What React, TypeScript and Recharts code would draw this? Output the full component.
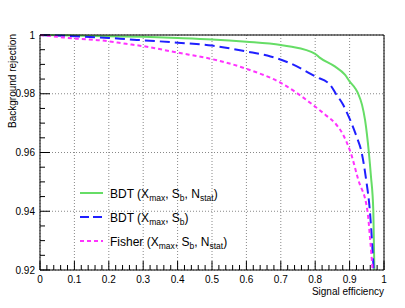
import { LineChart, Line, XAxis, YAxis, CartesianGrid } from 'recharts';

// signal efficiency (x) vs background rejection (y)
const bdtFullEff = [0, 0.1, 0.2, 0.3, 0.4, 0.5, 0.6, 0.7, 0.727, 0.8, 0.813, 0.857, 0.887, 0.9, 0.916, 0.925, 0.936, 0.945, 0.956, 0.962, 0.969, 0.972];
const bdtFullRej = [1, 0.9998, 0.9996, 0.9994, 0.999, 0.9985, 0.9977, 0.9966, 0.9961, 0.9936, 0.9923, 0.9893, 0.9864, 0.9842, 0.9819, 0.98, 0.9763, 0.971, 0.96, 0.952, 0.94, 0.92];

const bdtEff = [0, 0.1, 0.2, 0.26, 0.3, 0.4, 0.5, 0.6, 0.67, 0.727, 0.8, 0.843, 0.86, 0.88, 0.9, 0.92, 0.935, 0.948, 0.959, 0.97];
const bdtRej = [1, 0.9996, 0.999, 0.9985, 0.9982, 0.9974, 0.9964, 0.9944, 0.9927, 0.9904, 0.9859, 0.9831, 0.98, 0.9765, 0.9715, 0.9655, 0.96, 0.9508, 0.94, 0.92];

const fisherEff = [0, 0.05, 0.1, 0.175, 0.25, 0.3, 0.4, 0.5, 0.6, 0.7, 0.8, 0.83, 0.86, 0.88, 0.903, 0.925, 0.952, 0.96, 0.967];
const fisherRej = [1, 0.9994, 0.9988, 0.9982, 0.997, 0.9962, 0.994, 0.9918, 0.9885, 0.9837, 0.9756, 0.9728, 0.9697, 0.9663, 0.96, 0.9508, 0.94, 0.93, 0.92];

const xMajor = [0, 0.1, 0.2, 0.3, 0.4, 0.5, 0.6, 0.7, 0.8, 0.9, 1];
const yMajor = [0.92, 0.94, 0.96, 0.98, 1];
const xMinorStep = 0.02;
const yMinorStep = 0.005;

const seriesNames = ['BDT (X_max, S_b, N_stat)', 'BDT (X_max, S_b)', 'Fisher (X_max, S_b, N_stat)'];

const toPoints = (xs: number[], ys: number[]) => xs.map((x, i) => ({ x, y: ys[i] }));

const minorTicks = (lo: number, hi: number, step: number) => {
  const out: number[] = [];
  const n = Math.round((hi - lo) / step);
  for (let i = 0; i <= n; i++) out.push(+(lo + i * step).toFixed(4));
  return out;
};

const xTicks = minorTicks(0, 1, xMinorStep);
const yTicks = minorTicks(0.92, 1, yMinorStep);

const isMajor = (v: number, majors: number[]) => majors.some((m) => Math.abs(m - v) < 1e-6);

const FONT = '"Liberation Sans", Arial, sans-serif';

const series = [
  { data: toPoints(bdtFullEff, bdtFullRej), color: '#66dd66', dash: undefined, legendDash: undefined },
  { data: toPoints(bdtEff, bdtRej), color: '#1f1fff', dash: '10 5', legendDash: '9 4' },
  { data: toPoints(fisherEff, fisherRej), color: '#ff33ff', dash: '4 3', legendDash: '4 3' },
];

const BottomTick = (props: any) => {
  const { x, y, payload } = props;
  const major = isMajor(payload.value, xMajor);
  return (
    <g>
      <line x1={x} x2={x} y1={y} y2={y - (major ? 9 : 5)} stroke="#000" />
      {major && (
        <text x={x} y={y + 13} textAnchor="middle" fontSize={10} fontFamily={FONT} fill="#000">
          {payload.value}
        </text>
      )}
    </g>
  );
};

const TopTick = (props: any) => {
  const { x, y, payload } = props;
  const major = isMajor(payload.value, xMajor);
  return <line x1={x} x2={x} y1={y} y2={y + (major ? 9 : 5)} stroke="#000" />;
};

const LeftTick = (props: any) => {
  const { x, y, payload } = props;
  const major = isMajor(payload.value, yMajor);
  return (
    <g>
      <line x1={x} x2={x + (major ? 10 : 5)} y1={y} y2={y} stroke="#000" />
      {major && (
        <text x={x - 5} y={y + 3.5} textAnchor="end" fontSize={10} fontFamily={FONT} fill="#000">
          {payload.value}
        </text>
      )}
    </g>
  );
};

const RightTick = (props: any) => {
  const { x, y, payload } = props;
  const major = isMajor(payload.value, yMajor);
  return <line x1={x} x2={x - (major ? 10 : 5)} y1={y} y2={y} stroke="#000" />;
};

const LegendLabel = ({ name, x, y }: { name: string; x: number; y: number }) => {
  const parts = name.split(/_(\w+)/);
  return (
    <text x={x} y={y} fontSize={12} fontFamily={FONT} fill="#000">
      {parts.map((p, i) =>
        i % 2 === 1 ? (
          <tspan key={i} dy={3} fontSize={8.5}>
            {p}
          </tspan>
        ) : (
          <tspan key={i} dy={i === 0 ? 0 : -3}>
            {p}
          </tspan>
        )
      )}
    </text>
  );
};

export default function App() {
  return (
    <div style={{ position: 'absolute', left: 0, top: 0, background: '#fff' }}>
      <LineChart width={405} height={308} margin={{ top: 34, right: 20, bottom: 0, left: 0 }}>
        <CartesianGrid
          stroke="#888"
          strokeDasharray="1 2"
          verticalValues={xMajor}
          horizontalValues={yMajor}
        />
        <XAxis
          dataKey="x"
          type="number"
          domain={[0, 1]}
          ticks={xTicks}
          interval={0}
          height={38}
          tickSize={0}
          tickMargin={0}
          tickLine={false}
          axisLine={{ stroke: '#000' }}
          tick={<BottomTick />}
        />
        <XAxis
          xAxisId="top"
          orientation="top"
          type="number"
          domain={[0, 1]}
          ticks={xTicks}
          interval={0}
          height={1}
          tickSize={0}
          tickMargin={0}
          tickLine={false}
          axisLine={{ stroke: '#000' }}
          tick={<TopTick />}
        />
        <YAxis
          type="number"
          domain={[0.92, 1]}
          ticks={yTicks}
          interval={0}
          width={40}
          tickSize={0}
          tickMargin={0}
          tickLine={false}
          axisLine={{ stroke: '#000' }}
          tick={<LeftTick />}
        />
        <YAxis
          yAxisId="right"
          orientation="right"
          type="number"
          domain={[0.92, 1]}
          ticks={yTicks}
          interval={0}
          width={1}
          tickSize={0}
          tickMargin={0}
          tickLine={false}
          axisLine={{ stroke: '#000' }}
          tick={<RightTick />}
        />
        {series.map((s, i) => (
          <Line
            key={i}
            data={s.data}
            dataKey="y"
            type="monotone"
            stroke={s.color}
            strokeWidth={2}
            strokeDasharray={s.dash}
            dot={false}
            isAnimationActive={false}
          />
        ))}
        <g>
          {series.map((s, i) => (
            <g key={i}>
              <line x1={80} x2={103} y1={193 + i * 24} y2={193 + i * 24} stroke={s.color} strokeWidth={2} strokeDasharray={s.legendDash} />
              <LegendLabel name={seriesNames[i]} x={110} y={197.5 + i * 24} />
            </g>
          ))}
        </g>
        <text x={384} y={295} textAnchor="end" fontSize={10} fontFamily={FONT} fill="#000">
          Signal efficiency
        </text>
        <text
          x={16}
          y={34}
          transform="rotate(-90 16 34)"
          textAnchor="end"
          fontSize={10}
          fontFamily={FONT}
          fill="#000"
        >
          Background rejection
        </text>
      </LineChart>
    </div>
  );
}
